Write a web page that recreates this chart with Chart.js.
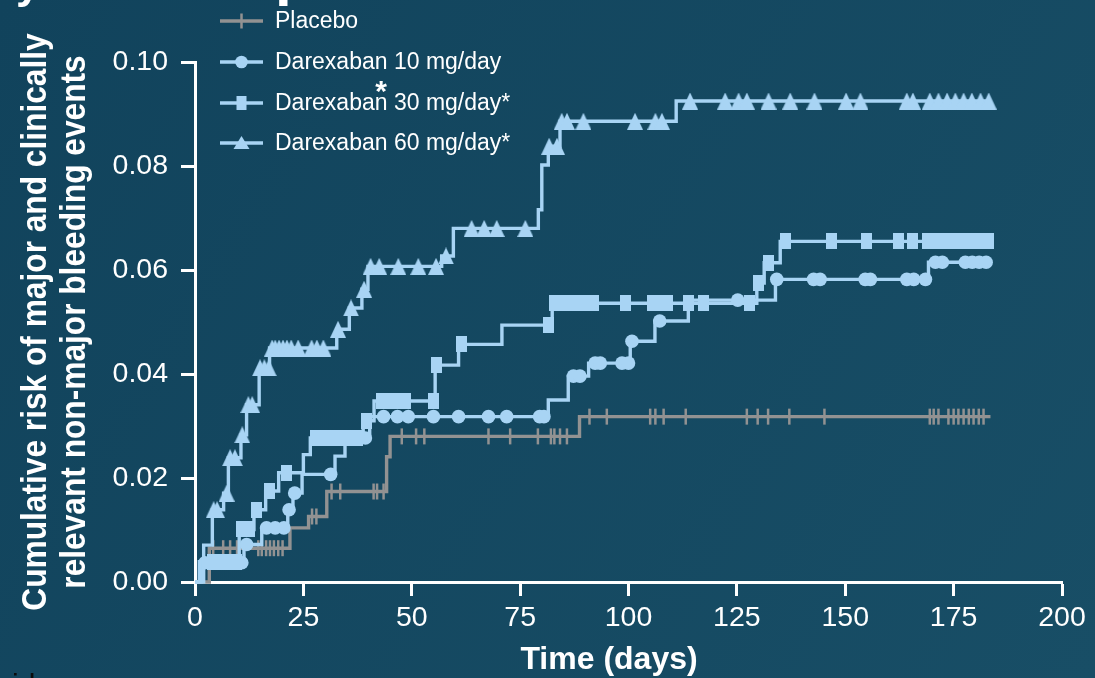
<!DOCTYPE html>
<html>
<head>
<meta charset="utf-8">
<script src="https://cdn.jsdelivr.net/npm/chart.js@4.4.1/dist/chart.umd.min.js"></script>
<style>
  html, body { margin: 0; padding: 0; background: #144762; }
  canvas { display: block; }
</style>
</head>
<body>
<canvas id="km" width="1095" height="678"></canvas>
<script>
// ---------------- DATA ----------------
const xTickValues = [0, 25, 50, 75, 100, 125, 150, 175, 200];
const yTickValues = [0, 0.02, 0.04, 0.06, 0.08, 0.10];
const seriesNames = ['Placebo', 'Darexaban 10 mg/day', 'Darexaban 30 mg/day*', 'Darexaban 60 mg/day*'];
const xTitle = 'Time (days)';
const yTitleLines = ['Cumulative risk of major and clinically', 'relevant non-major bleeding events'];

// Placebo
const placeboEventTimes = [0, 3.3, 21.9, 26.2, 30.4, 44.2, 45.0, 88.7];
const placeboEventRisk  = [0, 0.0065, 0.0104, 0.0126, 0.0174, 0.0241, 0.0280, 0.0318];
const placeboCensorTimes = [4.2, 6.5, 8.1, 9.7, 14.6, 15.4, 16.4, 17.3, 18.2, 19.2, 20.2,
  27.0, 28.0, 31.5, 33.5, 41.2, 42.0, 43.5,
  47.7, 51.0, 52.9, 67.7, 72.7, 79.1, 82.1, 82.9, 84.2, 85.8,
  91.0, 95.0, 105.0, 106.2, 108.1, 113.2, 127.3, 129.8, 132.2, 137.1, 145.2,
  169.5, 170.4, 171.5, 173.8, 175.0, 176.1, 177.3, 178.5, 179.6, 180.8, 181.9];
const placeboEnd = 183.5;

// Darexaban 10 mg/day
const dose10EventTimes = [0, 1.5, 11.3, 15.4, 21.4, 22.6, 24.7, 32.3, 34.6, 40.3, 81.5, 86.1, 90.8, 100.4, 106.1, 113.8, 133.9, 169.2];
const dose10EventRisk  = [0, 0.0037, 0.0072, 0.0104, 0.0139, 0.0171, 0.0207, 0.0242, 0.0277, 0.0318, 0.0350, 0.0396, 0.0421, 0.0463, 0.0502, 0.0542, 0.0582, 0.0615];
const dose10CensorTimes = [2.3, 10.8, 11.9, 16.5, 18.5, 20.5, 21.7, 23.0, 31.3, 39.3,
  43.5, 46.7, 49.2, 55.0, 60.8, 67.7, 71.9, 79.5, 80.5, 87.3, 88.8, 92.3, 93.5, 98.5, 100.0,
  100.8, 107.2, 125.2, 134.2, 142.7, 144.2, 154.6, 155.8, 164.2, 165.8, 168.5,
  170.8, 172.4, 177.7, 179.3, 180.9, 182.5];
const dose10End = 183.5;

// Darexaban 30 mg/day
const dose30EventTimes = [0, 1.0, 10.2, 13.6, 16.3, 19.3, 25.0, 26.6, 38.8, 41.3, 55.4, 60.8, 70.8, 82.4, 129.6, 131.3, 135.0];
const dose30EventRisk  = [0, 0.0039, 0.0101, 0.0139, 0.0175, 0.0210, 0.0245, 0.0277, 0.0310, 0.0348, 0.0417, 0.0457, 0.0494, 0.0536, 0.0575, 0.0614, 0.0655];
const dose30CensorTimes = [4.0, 6.0, 8.0, 9.5, 10.8, 12.6, 14.2, 17.2, 21.0,
  27.7, 29.6, 31.5, 33.0, 34.5, 36.0, 37.5, 39.5, 43.0, 45.0, 47.0, 48.5, 55.0, 55.8, 61.5, 81.6,
  83.0, 84.5, 86.0, 87.5, 89.0, 90.3, 91.9, 99.2, 105.5, 107.3, 109.0, 113.8, 117.3, 127.9,
  130.0, 132.3, 136.2, 146.9, 155.0, 162.3, 165.4, 169.0, 171.0, 173.0, 175.0, 177.0, 179.0, 181.0, 183.0];
const dose30End = 183.5;

// Darexaban 60 mg/day
const dose60EventTimes = [0, 2.0, 4.0, 6.6, 7.7, 10.6, 11.9, 14.8, 17.2, 32.7, 35.6, 38.5, 39.9, 56.9, 59.6, 79.2, 80.0, 81.5, 84.2, 111.0];
const dose60EventRisk  = [0, 0.0071, 0.0139, 0.0171, 0.0239, 0.0283, 0.0341, 0.0412, 0.0450, 0.0486, 0.0527, 0.0563, 0.0607, 0.0627, 0.0680, 0.0716, 0.0802, 0.0838, 0.0886, 0.0925];
const dose60CensorTimes = [4.3, 5.1, 7.3, 8.1, 9.2, 10.9, 12.3, 13.2, 15.0, 16.0, 17.0,
  17.8, 18.5, 19.4, 20.3, 21.2, 22.2, 23.8, 26.9, 28.1, 29.6, 33.0, 36.0, 39.0,
  40.5, 42.5, 46.9, 51.5, 55.6, 57.9, 63.8, 66.7, 69.6, 76.2, 81.7, 83.5,
  84.6, 85.8, 89.6, 101.5, 106.2, 107.7, 114.2, 122.3, 125.4, 127.3, 132.3, 137.3, 142.9,
  150.2, 153.5, 164.2, 165.6, 169.5, 171.5, 173.5, 175.4, 177.3, 179.2, 181.2, 183.1];
const dose60End = 183.5;

// ---------------- STYLE ----------------
const BLUE = '#a8d4f4';
const GREY = '#929292';
const WHITE = '#ffffff';
const FONT = '"Liberation Sans", Arial, Helvetica, sans-serif';

function markerCanvas(kind, color) {
  const c = document.createElement('canvas');
  let w = 11, h = 16;
  if (kind === 'tri') { w = 16; h = 17; }
  c.width = w; c.height = h;
  const g = c.getContext('2d');
  g.fillStyle = color;
  if (kind === 'rect') {
    g.fillRect(0, 0, w, h);
  } else {
    g.beginPath(); g.moveTo(w / 2, 0); g.lineTo(w, h); g.lineTo(0, h); g.closePath(); g.fill();
  }
  return c;
}
const rectMarker = markerCanvas('rect', BLUE);
const triMarker = markerCanvas('tri', BLUE);

function stepPoints(times, risks, end) {
  const pts = times.map((t, i) => ({ x: t, y: risks[i] }));
  pts.push({ x: end, y: risks[risks.length - 1] });
  return pts;
}
// censor marks sit on the current value of the step curve
function censorPoints(censors, times, risks) {
  return censors.map(t => {
    let v = 0;
    for (let i = 0; i < times.length; i++) if (times[i] <= t) v = risks[i];
    return { x: t, y: v };
  });
}

const groups = [
  { name: seriesNames[0], times: placeboEventTimes, risks: placeboEventRisk, censors: placeboCensorTimes, end: placeboEnd, color: GREY, marker: 'tick' },
  { name: seriesNames[1], times: dose10EventTimes, risks: dose10EventRisk, censors: dose10CensorTimes, end: dose10End, color: BLUE, marker: 'circle' },
  { name: seriesNames[2], times: dose30EventTimes, risks: dose30EventRisk, censors: dose30CensorTimes, end: dose30End, color: BLUE, marker: 'rect' },
  { name: seriesNames[3], times: dose60EventTimes, risks: dose60EventRisk, censors: dose60CensorTimes, end: dose60End, color: BLUE, marker: 'tri' }
];

function markerStyle(g) {
  if (g.marker === 'tick') return { pointStyle: 'line', pointRotation: 90, pointRadius: 8, pointBorderWidth: 2.5, pointBorderColor: g.color, pointBackgroundColor: g.color };
  if (g.marker === 'circle') return { pointStyle: 'circle', pointRadius: 6.8, pointBorderWidth: 0, pointBackgroundColor: g.color, pointBorderColor: g.color };
  if (g.marker === 'rect') return { pointStyle: rectMarker, pointRadius: 8 };
  return { pointStyle: triMarker, pointRadius: 8 };
}

const datasets = [];
groups.forEach((g, i) => {
  const ord = i === 0 ? 10 : 5 - i;
  datasets.push(Object.assign({
    type: 'scatter',
    label: g.name + ' censored',
    data: censorPoints(g.censors, g.times, g.risks),
    showLine: false,
    clip: 12,
    order: ord
  }, markerStyle(g)));
  datasets.push({
    type: 'line',
    label: g.name,
    data: stepPoints(g.times, g.risks, g.end),
    stepped: 'before',
    borderColor: g.color,
    borderWidth: 3.4,
    pointRadius: 0,
    fill: false,
    clip: 12,
    order: ord + 0.5
  });
});

// ---------------- PLUGINS ----------------
const backgroundPlugin = {
  id: 'bg',
  beforeDraw(chart) {
    const ctx = chart.ctx;
    const grd = ctx.createLinearGradient(0, 0, chart.width, chart.height);
    grd.addColorStop(0, '#11435c');
    grd.addColorStop(1, '#184e66');
    ctx.save();
    ctx.fillStyle = grd;
    ctx.fillRect(0, 0, chart.width, chart.height);
    ctx.restore();
  }
};

const decorPlugin = {
  id: 'decor',
  afterDraw(chart) {
    const ctx = chart.ctx;
    ctx.save();
    // legend
    const rowsY = [21, 62, 103, 143];
    groups.forEach((g, i) => {
      const y = rowsY[i];
      ctx.strokeStyle = g.color;
      ctx.lineWidth = 3.4;
      ctx.beginPath(); ctx.moveTo(220, y); ctx.lineTo(263, y); ctx.stroke();
      const cx = 241.5;
      if (g.marker === 'tick') {
        ctx.lineWidth = 2.5;
        ctx.beginPath(); ctx.moveTo(cx, y - 7.5); ctx.lineTo(cx, y + 7.5); ctx.stroke();
      } else if (g.marker === 'circle') {
        ctx.fillStyle = g.color;
        ctx.beginPath(); ctx.arc(cx, y, 6.3, 0, Math.PI * 2); ctx.fill();
      } else if (g.marker === 'rect') {
        ctx.fillStyle = g.color;
        ctx.fillRect(cx - 5, y - 7, 10, 14);
      } else {
        ctx.fillStyle = g.color;
        ctx.beginPath(); ctx.moveTo(cx, y - 7); ctx.lineTo(cx + 8, y + 6); ctx.lineTo(cx - 8, y + 6); ctx.closePath(); ctx.fill();
      }
      ctx.fillStyle = WHITE;
      ctx.font = '23px ' + FONT;
      ctx.textAlign = 'left';
      ctx.textBaseline = 'middle';
      ctx.fillText(g.name, 275, y + 1);
    });
    // significance asterisk
    ctx.fillStyle = WHITE;
    ctx.font = 'bold 30px ' + FONT;
    ctx.textAlign = 'center';
    ctx.textBaseline = 'alphabetic';
    ctx.fillText('*', 381, 101);

    // axis titles
    ctx.font = 'bold 32px ' + FONT;
    ctx.textAlign = 'center';
    ctx.textBaseline = 'alphabetic';
    ctx.fillText(xTitle, 609, 669);
    ctx.font = 'bold 35px ' + FONT;
    const yBase = [46, 85];
    yTitleLines.forEach((line, i) => {
      ctx.save();
      ctx.translate(yBase[i], 322);
      ctx.rotate(-Math.PI / 2);
      ctx.scale(0.905, 1);
      ctx.fillText(line, 0, 0);
      ctx.restore();
    });

    // cropped fragments of surrounding slide text
    ctx.fillStyle = WHITE;
    ctx.font = 'bold 44px ' + FONT;
    ctx.textAlign = 'left';
    ctx.fillText('y', 16, -2);
    ctx.font = 'bold 60px ' + FONT;
    ctx.fillText('p', 275, -6);
    ctx.fillStyle = '#0b0b0b';
    ctx.font = '30px ' + FONT;
    ctx.fillText('id', 12, 695);
    ctx.restore();
  }
};

// ---------------- CHART ----------------
new Chart(document.getElementById('km'), {
  data: { datasets },
  options: {
    responsive: false,
    animation: false,
    events: [],
    devicePixelRatio: 1,
    layout: { padding: { top: 62, right: 33, left: 0, bottom: 0 } },
    plugins: { legend: { display: false }, tooltip: { enabled: false }, title: { display: false } },
    scales: {
      x: {
        type: 'linear',
        min: 0, max: 200,
        z: 1,
        afterBuildTicks: s => { s.ticks = xTickValues.map(v => ({ value: v })); },
        afterFit: s => { s.height = 96; },
        ticks: { color: WHITE, font: { family: FONT, size: 28.5 }, padding: 5, maxRotation: 0, autoSkip: false,
                 callback: v => String(v) },
        grid: { display: true, drawOnChartArea: false, drawTicks: true, tickLength: 14, tickWidth: 3, tickColor: WHITE },
        border: { display: true, color: WHITE, width: 3 }
      },
      y: {
        type: 'linear',
        min: 0, max: 0.10,
        z: 1,
        afterBuildTicks: s => { s.ticks = yTickValues.map(v => ({ value: v })); },
        afterFit: s => { s.width = 195; },
        ticks: { color: WHITE, font: { family: FONT, size: 28.5 }, padding: 13, autoSkip: false,
                 callback: v => Number(v).toFixed(2) },
        grid: { display: true, drawOnChartArea: false, drawTicks: true, tickLength: 14, tickWidth: 3, tickColor: WHITE },
        border: { display: true, color: WHITE, width: 3 }
      }
    }
  },
  plugins: [backgroundPlugin, decorPlugin]
});
</script>
</body>
</html>
